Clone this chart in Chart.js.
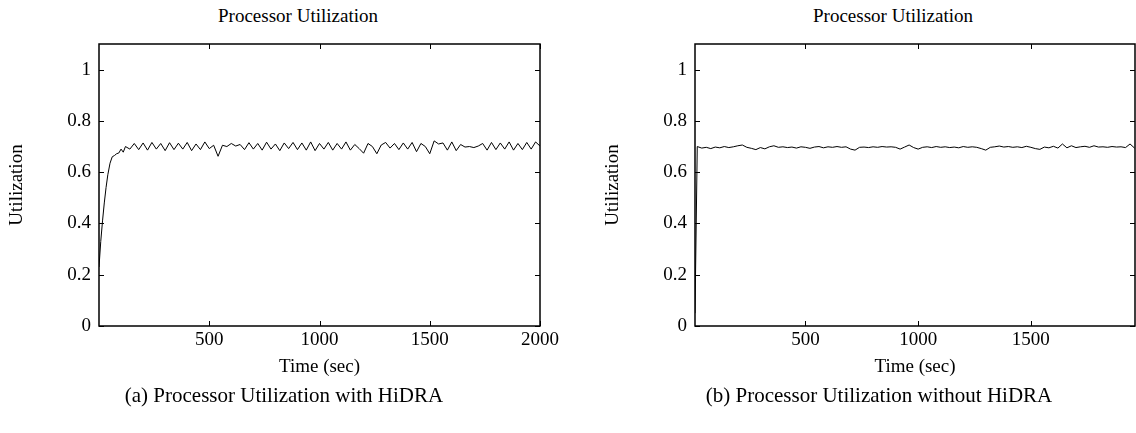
<!DOCTYPE html>
<html>
<head>
<meta charset="utf-8">
<script src="https://cdn.jsdelivr.net/npm/chart.js@4.4.0/dist/chart.umd.min.js"></script>
<style>
  body { margin: 0; background: #fff; width: 1136px; height: 433px; overflow: hidden; position: relative; font-family: "Liberation Serif", serif; color: #000; }
  canvas { position: absolute; top: 0; }
  .txt { position: absolute; text-align: center; white-space: nowrap; }
  .title { font-size: 19px; line-height: 22px; top: 5px; width: 400px; }
  .caption { font-size: 21px; line-height: 24px; top: 383px; width: 500px; }
</style>
</head>
<body>
<div class="txt title" style="left:98px">Processor Utilization</div>
<div class="txt title" style="left:693px">Processor Utilization</div>
<canvas id="chartA" width="568" height="433" style="left:0px"></canvas>
<canvas id="chartB" width="540" height="433" style="left:596px"></canvas>
<div class="txt caption" style="left:34px">(a) Processor Utilization with HiDRA</div>
<div class="txt caption" style="left:629px">(b) Processor Utilization without HiDRA</div>
<script>
// (a) con HiDRA
var tiempoA = [0, 8, 16, 24, 32, 40, 50, 60, 70, 80, 90, 100, 110,
  120, 140, 160, 180, 200, 220, 240, 260, 280, 300, 320, 340, 360, 380, 400, 420, 440, 460, 480, 500,
  520, 540, 560, 580, 600, 620, 640, 660, 680, 700, 720, 740, 760, 780, 800, 820, 840, 860, 880, 900,
  920, 940, 960, 980, 1000, 1020, 1040, 1060, 1080, 1100, 1120, 1140, 1160, 1180, 1200, 1220, 1240, 1260,
  1280, 1300, 1320, 1340, 1360, 1380, 1400, 1420, 1440, 1460, 1480, 1500, 1520, 1540, 1560, 1580, 1600,
  1620, 1640, 1660, 1680, 1700, 1720, 1740, 1760, 1780, 1800, 1820, 1840, 1860, 1880, 1900, 1920, 1940,
  1960, 1980, 2000];
var utilA = [0.23, 0.33, 0.41, 0.48, 0.54, 0.59, 0.635, 0.66, 0.665, 0.672, 0.675, 0.69, 0.678,
  0.700, 0.690, 0.712, 0.688, 0.714, 0.686, 0.716, 0.690, 0.712, 0.684, 0.715, 0.688, 0.713, 0.690, 0.716, 0.684, 0.710, 0.688, 0.718, 0.692,
  0.705, 0.662, 0.705, 0.700, 0.712, 0.702, 0.708, 0.688, 0.715, 0.690, 0.712, 0.686, 0.717, 0.690, 0.710, 0.684, 0.714, 0.692, 0.716, 0.688,
  0.714, 0.686, 0.718, 0.684, 0.712, 0.690, 0.716, 0.686, 0.712, 0.690, 0.718, 0.686, 0.708, 0.692, 0.674, 0.712, 0.700, 0.672,
  0.706, 0.716, 0.694, 0.712, 0.688, 0.714, 0.690, 0.716, 0.680, 0.712, 0.700, 0.672, 0.722, 0.710, 0.714, 0.686, 0.718,
  0.684, 0.708, 0.698, 0.700, 0.696, 0.702, 0.712, 0.686, 0.716, 0.688, 0.714, 0.690, 0.718, 0.686, 0.712, 0.688, 0.716,
  0.690, 0.718, 0.702];

// (b) sin HiDRA
var tiempoB = [10, 20, 40, 60, 80, 100, 120, 140, 160, 180, 200, 220, 240, 260, 280, 300, 320, 340, 360, 380,
  400, 420, 440, 460, 480, 500, 520, 540, 560, 580, 600, 620, 640, 660, 680, 700, 720, 740, 760, 780,
  800, 820, 840, 860, 880, 900, 920, 940, 960, 980, 1000, 1020, 1040, 1060, 1080, 1100, 1120, 1140, 1160, 1180,
  1200, 1220, 1240, 1260, 1280, 1300, 1320, 1340, 1360, 1380, 1400, 1420, 1440, 1460, 1480, 1500, 1520, 1540, 1560, 1580,
  1600, 1620, 1640, 1660, 1680, 1700, 1720, 1740, 1760, 1780, 1800, 1820, 1840, 1860, 1880, 1900, 1920, 1940, 1960];
var utilB = [0.05, 0.700, 0.694, 0.697, 0.692, 0.698, 0.695, 0.700, 0.696, 0.699, 0.703, 0.706, 0.697, 0.693, 0.688, 0.696, 0.691, 0.699, 0.703, 0.697,
  0.699, 0.696, 0.698, 0.694, 0.699, 0.697, 0.693, 0.698, 0.700, 0.695, 0.699, 0.697, 0.700, 0.697, 0.699, 0.690, 0.686, 0.697, 0.698, 0.696,
  0.699, 0.697, 0.700, 0.698, 0.699, 0.697, 0.690, 0.698, 0.706, 0.696, 0.690, 0.697, 0.699, 0.696, 0.700, 0.697, 0.699, 0.696, 0.698, 0.695,
  0.700, 0.697, 0.699, 0.697, 0.692, 0.686, 0.697, 0.699, 0.702, 0.698, 0.700, 0.697, 0.699, 0.696, 0.701, 0.697, 0.692, 0.689, 0.698, 0.695,
  0.701, 0.694, 0.710, 0.695, 0.703, 0.696, 0.699, 0.701, 0.697, 0.703, 0.698, 0.699, 0.697, 0.700, 0.698, 0.699, 0.696, 0.710, 0.694];

var ticksY = [0, 0.2, 0.4, 0.6, 0.8, 1];
var ticksXA = [500, 1000, 1500, 2000];
var ticksXB = [500, 1000, 1500];
var fuente = { family: "'Liberation Serif', serif", size: 19 };

// marco y marcas hacia dentro, estilo gnuplot
var marco = {
    id: 'marco',
    afterDraw: function (chart) {
        var ctx = chart.ctx;
        var a = chart.chartArea;
        var sx = chart.scales.x, sy = chart.scales.y;
        ctx.save();
        ctx.strokeStyle = '#000';
        ctx.lineWidth = 1;
        sx.ticks.forEach(function (t) {
            var px = Math.round(sx.getPixelForValue(t.value)) + 0.5;
            ctx.beginPath();
            ctx.moveTo(px, a.bottom); ctx.lineTo(px, a.bottom - 5);
            ctx.moveTo(px, a.top); ctx.lineTo(px, a.top + 5);
            ctx.stroke();
        });
        sy.ticks.forEach(function (t) {
            var py = Math.round(sy.getPixelForValue(t.value)) + 0.5;
            ctx.beginPath();
            ctx.moveTo(a.left, py); ctx.lineTo(a.left + 5, py);
            ctx.moveTo(a.right, py); ctx.lineTo(a.right - 5, py);
            ctx.stroke();
        });
        ctx.lineWidth = 1.5;
        ctx.strokeRect(a.left, a.top, a.right - a.left, a.bottom - a.top);
        ctx.restore();
    }
};

function crearGrafica(id, tiempos, valores, xmin, xmax, ticksX, padDerecha) {
    var puntos = tiempos.map(function (t, i) { return { x: t, y: valores[i] }; });
    var ctx = document.getElementById(id).getContext('2d');
    return new Chart(ctx, {
        type: 'line',
        data: {
            datasets: [{
                data: puntos,
                borderColor: '#000',
                borderWidth: 1,
                pointRadius: 0,
                tension: 0,
                fill: false
            }]
        },
        options: {
            responsive: false,
            animation: false,
            layout: { padding: { top: 44, bottom: 51, left: 0, right: padDerecha } },
            plugins: { legend: { display: false }, tooltip: { enabled: false } },
            scales: {
                x: {
                    type: 'linear',
                    min: xmin,
                    max: xmax,
                    grid: { display: false, drawTicks: false },
                    border: { display: false },
                    afterBuildTicks: function (s) { s.ticks = ticksX.map(function (v) { return { value: v }; }); },
                    ticks: {
                        maxRotation: 0,
                        padding: 3,
                        color: '#000',
                        font: fuente,
                        callback: function (v) { return String(v); }
                    },
                    title: { display: true, text: 'Time (sec)', color: '#000', font: fuente, padding: { top: 0, bottom: 4 } },
                    afterFit: function (s) { s.height = 56; }
                },
                y: {
                    min: 0,
                    max: 1.1,
                    grid: { display: false, drawTicks: false },
                    border: { display: false },
                    afterBuildTicks: function (s) { s.ticks = ticksY.map(function (v) { return { value: v }; }); },
                    ticks: {
                        padding: 8,
                        color: '#000',
                        font: fuente,
                        callback: function (v) { return String(Math.round(v * 10) / 10); }
                    },
                    title: { display: true, text: 'Utilization', color: '#000', font: fuente, padding: { top: 6, bottom: 0 } },
                    afterFit: function (s) { s.width = 99; }
                }
            }
        },
        plugins: [marco]
    });
}

crearGrafica('chartA', tiempoA, utilA, 0, 2000, ticksXA, 28);
crearGrafica('chartB', tiempoB, utilB, 10, 1962, ticksXB, 1);
</script>
</body>
</html>
